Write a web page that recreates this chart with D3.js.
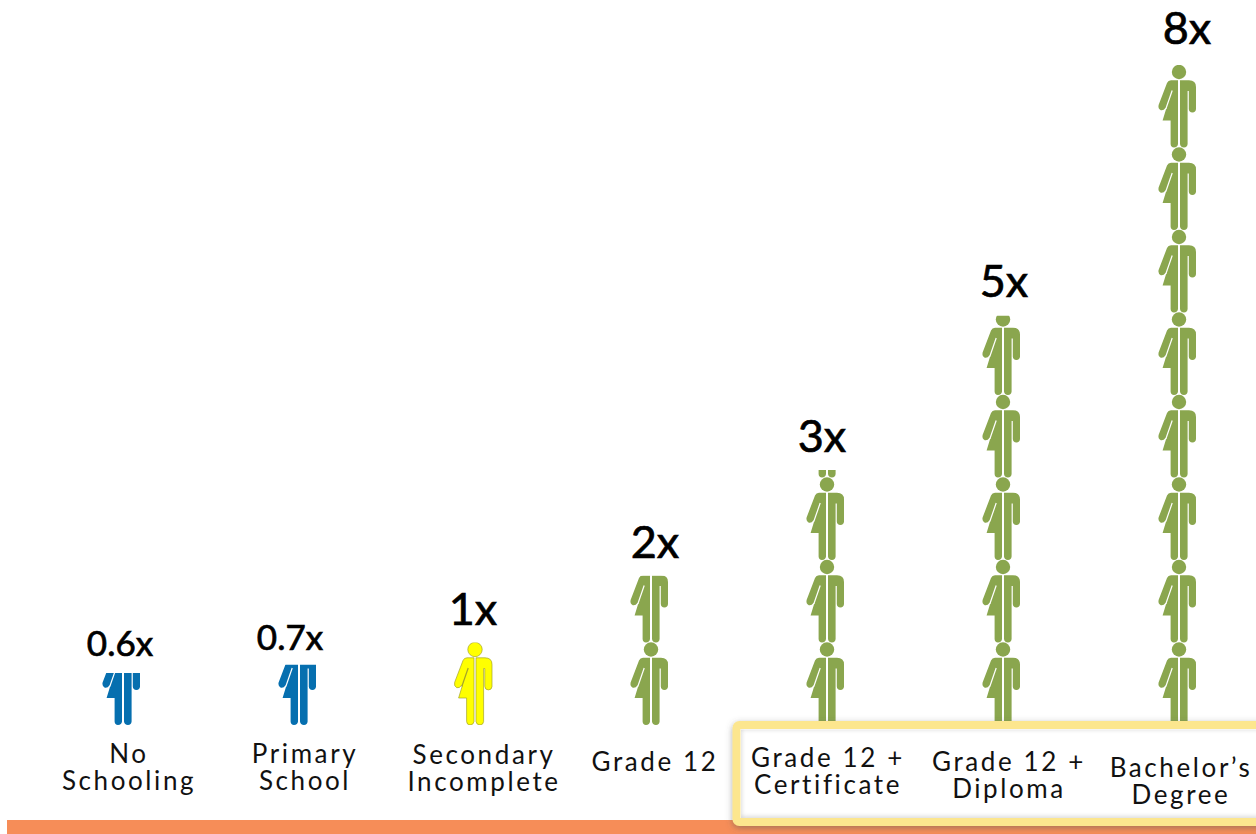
<!DOCTYPE html>
<html>
<head>
<meta charset="utf-8">
<script src="https://cdn.jsdelivr.net/npm/d3@7"></script>
<style>
html, body { margin: 0; padding: 0; background: #fff; overflow: hidden; }
text { font-family: Lato, "Noto Sans", sans-serif; fill: #111; }
.value { text-anchor: middle; fill: #000; stroke: #000; stroke-width: 0.7px; }
.cat { font-size: 26px; letter-spacing: 2.6px; text-anchor: middle; font-weight: 400; }
</style>
</head>
<body>
<svg width="1256" height="834"></svg>
<script>
// the categories along the bottom, one or two lines each
const categories = ["No Schooling", "Primary School", "Secondary Incomplete", "Grade 12", "Grade 12 + Certificate", "Grade 12 + Diploma", "Bachelor's Degree"];
const categoryLines = [["No", "Schooling"], ["Primary", "School"], ["Secondary", "Incomplete"], ["Grade 12"], ["Grade 12 +", "Certificate"], ["Grade 12 +", "Diploma"], ["Bachelor\u2019s", "Degree"]];
const valueLabels = ["0.6x", "0.7x", "1x", "2x", "3x", "5x", "8x"];
// how many people tall each stack is really drawn
const stackHeights = [0.63, 0.73, 1, 1.81, 3.09, 4.96, 8];
const groups = ["low", "low", "base", "high", "high", "high", "high"];

// hand placed text, the original slide is not regular
const valueDx = [-3, -9, -2, 4, -5, 1, 8];
const valueY = [656, 650, 625, 558, 452, 297, 44];
const valueSize = [35, 35, 45, 45, 45, 45, 45];
const catDx = [6, 6, 9, 4, 1, 6, 2];
const catY = [763, 763, 764, 771, 767, 771, 777];

const groupColor = { low: "#066FAF", base: "#FFFF00", high: "#8AA64E" };

const svg = d3.select("svg");
const x = d3.scalePoint().domain(categories).range([123, 1179]);
const y = d3.scaleLinear().domain([0, 8]).range([725, 65]);
const unit = y(0) - y(1);

// one person, drawn from the head top on the centre line, 82.5 tall
const leftHalf = "M-1,15.3 L-8,15.3 Q-10.8,15.3 -12,18 L-20.4,40 Q-21.2,43.8 -18.2,45.2 Q-15.4,45.8 -13.6,43 L-12.6,43 L-16.4,55.5 L-8.4,55.5 L-8.4,79 Q-8.2,82.4 -5,82.4 Q-1.4,82.4 -1,79 Z";
const rightHalf = "M1,15.3 L10,15.3 Q17,15.3 17,22 L17,44 Q16.8,47.4 13.4,47.4 Q10,47.4 9.8,44 L9.8,26 L8.6,26 L8.6,79 Q8.3,82.4 5,82.4 Q1.4,82.4 1,79 Z";
const slit = "M-6.8,25.5 L-13.2,44";

const defs = svg.append("defs");
categories.forEach((c, i) => {
    defs.append("clipPath").attr("id", "clip" + i)
        .append("rect")
        .attr("x", x(c) - 30)
        .attr("y", y(stackHeights[i]))
        .attr("width", 60)
        .attr("height", y(0) - y(stackHeights[i]));
});
const shadow = defs.append("filter").attr("id", "boxShadow")
    .attr("x", "-5%").attr("y", "-10%").attr("width", "110%").attr("height", "125%");
shadow.append("feDropShadow").attr("dx", 0).attr("dy", 2).attr("stdDeviation", 3)
    .attr("flood-color", "#555").attr("flood-opacity", 0.5);
const blur = defs.append("filter").attr("id", "innerBlur")
    .attr("x", "-5%").attr("y", "-20%").attr("width", "110%").attr("height", "140%");
blur.append("feGaussianBlur").attr("stdDeviation", 2.5);
defs.append("clipPath").attr("id", "boxInner").append("rect")
    .attr("x", 741).attr("y", 729.5).attr("width", 515).attr("height", 88.5);

// orange bar at the foot of the page
svg.append("rect").attr("x", 7).attr("y", 820).attr("width", 1249).attr("height", 14).attr("fill", "#F68D58");

// stacks of people
const stack = svg.selectAll(".stack")
    .data(categories)
    .enter().append("g")
    .attr("class", "stack")
    .attr("clip-path", (d, i) => "url(#clip" + i + ")");

const person = stack.selectAll(".person")
    .data((d, i) => d3.range(Math.ceil(stackHeights[i])).map(k => ({ cat: d, col: i, k: k })))
    .enter().append("g")
    .attr("class", "person")
    .attr("transform", d => "translate(" + x(d.cat) + "," + y(d.k + 1) + ") scale(" + (unit / 82.5) + ")");

person.each(function(d) {
    const g = d3.select(this);
    const col = groupColor[groups[d.col]];
    const edge = groups[d.col] === "base" ? "#A3A32A" : "none";
    g.append("circle").attr("cx", 0).attr("cy", 7).attr("r", 7.2).attr("fill", col).attr("stroke", edge).attr("stroke-width", 0.7);
    g.append("path").attr("d", leftHalf).attr("fill", col).attr("stroke", edge).attr("stroke-width", 0.7);
    g.append("path").attr("d", rightHalf).attr("fill", col).attr("stroke", edge).attr("stroke-width", 0.7);
    g.append("path").attr("d", slit).attr("fill", "none").attr("stroke", groups[d.col] === "base" ? edge : "#fff").attr("stroke-width", 1.2);
});

// yellow highlight box over the last three categories
svg.append("rect")
    .attr("x", 736.5).attr("y", 725).attr("width", 530).attr("height", 97)
    .attr("rx", 3)
    .attr("fill", "#fff").attr("stroke", "#FCE68E").attr("stroke-width", 8)
    .attr("filter", "url(#boxShadow)");
const inner = svg.append("g").attr("clip-path", "url(#boxInner)");
inner.append("line")
    .attr("x1", 738).attr("x2", 1260).attr("y1", 728).attr("y2", 728)
    .attr("stroke", "#666").attr("stroke-width", 4)
    .attr("filter", "url(#innerBlur)");
inner.append("rect")
    .attr("x", 739).attr("y", 727).attr("width", 530).attr("height", 92)
    .attr("fill", "none").attr("stroke", "#bbb").attr("stroke-width", 3)
    .attr("filter", "url(#innerBlur)");

// the multiples above the stacks
svg.selectAll(".value")
    .data(valueLabels)
    .enter().append("text")
    .attr("class", "value")
    .attr("x", (d, i) => x(categories[i]) + valueDx[i])
    .attr("y", (d, i) => valueY[i])
    .style("font-size", (d, i) => valueSize[i] + "px")
    .text(d => d);

// category names
const cat = svg.selectAll(".cat")
    .data(categoryLines)
    .enter().append("text")
    .attr("class", "cat")
    .attr("y", (d, i) => catY[i]);
cat.selectAll("tspan")
    .data((d, i) => d.map(t => ({ t: t, i: i })))
    .enter().append("tspan")
    .attr("x", d => x(categories[d.i]) + catDx[d.i])
    .attr("dy", (d, j) => j ? 27 : 0)
    .text(d => d.t);
</script>
</body>
</html>
